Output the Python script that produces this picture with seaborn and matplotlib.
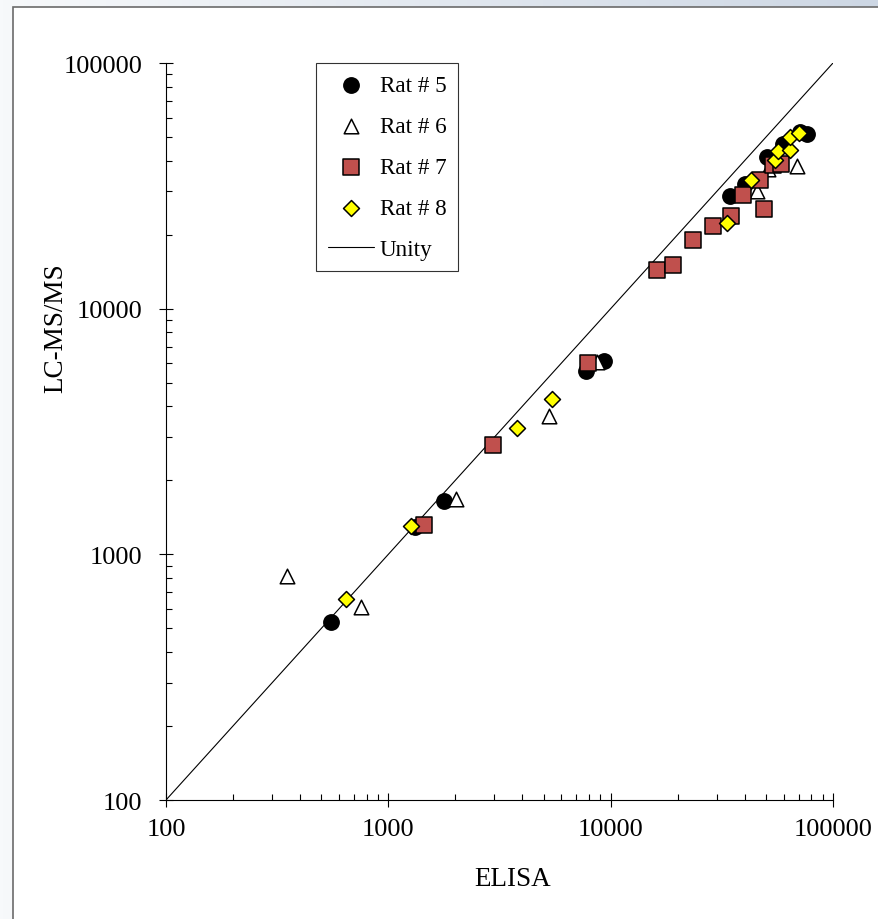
import numpy as np
import pandas as pd
import matplotlib
matplotlib.use('Agg')
import matplotlib.pyplot as plt
import matplotlib.patches as patches
import matplotlib.ticker as mticker
import seaborn as sns

# values (ELISA vs LC-MS/MS)
rat5_x = [552, 1318, 1781, 7745, 9333, 34400, 40300, 50500, 59700, 71100, 76400]
rat5_y = [530, 1291, 1648, 5572, 6124, 28700, 32100, 41400, 46800, 52400, 51400]

rat6_x = [350, 753, 2016, 5283, 8690, 45600, 51000, 68900]
rat6_y = [817, 611, 1679, 3658, 6070, 30100, 37000, 38000]

rat7_x = [1447, 2958, 7910, 16170, 19090, 23480, 28880, 34800, 39400, 47000, 49000, 53800, 58400]
rat7_y = [1315, 2786, 6010, 14360, 15050, 19010, 21680, 23820, 29000, 33400, 25400, 38420, 38780]

rat8_x = [646, 1265, 3793, 5446, 33380, 42810, 54900, 56650, 64100, 64100, 70400]
rat8_y = [658, 1304, 3266, 4286, 22290, 33370, 40300, 43750, 44200, 49900, 51840]

unity = [100, 100000]
ticks = [100, 1000, 10000, 100000]

sns.set_style('ticks')
plt.rcParams['font.family'] = ['Liberation Serif', 'DejaVu Serif']
plt.rcParams['text.color'] = 'black'
plt.rcParams['axes.labelcolor'] = 'black'

fig = plt.figure(figsize=(8.79, 9.20), dpi=100)

# light window-like background with gradient strip at the top
bg = fig.add_axes([0, 0, 1, 1], zorder=-2)
grad = np.linspace(0, 1, 256)[None, :]
bg.imshow(grad, aspect='auto', extent=[0, 1, 0, 1],
          cmap=matplotlib.colors.LinearSegmentedColormap.from_list('g', ['#f7f9fb', '#cdd7e4']))
bg.set_axis_off()
fig.patches.append(patches.Rectangle((13 / 879, -0.01), 1.0, 1 - 8 / 920 + 0.01,
                                     transform=fig.transFigure, facecolor='white',
                                     edgecolor='#6b6b6b', linewidth=1.2, zorder=-1))

ax = fig.add_axes([166 / 879, 1 - 801 / 920, 667 / 879, 737 / 920])
ax.set_facecolor('none')

sns.scatterplot(x=rat5_x, y=rat5_y, marker='o', s=121, color='black',
                edgecolor='black', linewidth=1.1, label='Rat # 5', ax=ax, zorder=3)
sns.scatterplot(x=rat6_x, y=rat6_y, marker='^', s=110, color='white',
                edgecolor='black', linewidth=1.1, label='Rat # 6', ax=ax, zorder=3)
sns.scatterplot(x=rat7_x, y=rat7_y, marker='s', s=117, color='#c0504d',
                edgecolor='black', linewidth=1.1, label='Rat # 7', ax=ax, zorder=3)
sns.scatterplot(x=rat8_x, y=rat8_y, marker='D', s=66, color='#ffff00',
                edgecolor='black', linewidth=1.1, label='Rat # 8', ax=ax, zorder=3)
sns.lineplot(x=unity, y=unity, color='black', linewidth=0.8, label='Unity', ax=ax, zorder=2)

ax.set_xscale('log')
ax.set_yscale('log')
ax.set_xlim(100, 100000)
ax.set_ylim(100, 100000)
ax.set_xticks(ticks)
ax.set_yticks(ticks)
ax.xaxis.set_major_formatter(mticker.FuncFormatter(lambda v, p: '%d' % v))
ax.yaxis.set_major_formatter(mticker.FuncFormatter(lambda v, p: '%d' % v))
ax.xaxis.set_minor_locator(mticker.LogLocator(base=10, subs=np.arange(2, 10)))
ax.yaxis.set_minor_locator(mticker.LogLocator(base=10, subs=np.arange(2, 10)))
ax.xaxis.set_minor_formatter(mticker.NullFormatter())
ax.yaxis.set_minor_formatter(mticker.NullFormatter())

ax.tick_params(which='major', direction='inout', length=10, width=0.8,
               color='black', labelsize=19, labelcolor='black')
ax.tick_params(which='minor', direction='in', length=4.5, width=0.8, color='black')
ax.tick_params(axis='x', which='major', pad=8)
ax.tick_params(axis='y', which='major', pad=12)

sns.despine(ax=ax)
for sp in ['left', 'bottom']:
    ax.spines[sp].set_color('black')
    ax.spines[sp].set_linewidth(0.8)

ax.set_xlabel('ELISA', fontsize=19.5)
ax.set_ylabel('LC-MS/MS', fontsize=19.5)
ax.xaxis.set_label_coords(0.52, -0.089)
ax.yaxis.set_label_coords(-0.146, 0.642)

leg = ax.legend(loc='upper left', bbox_to_anchor=(0.225, 1.0), frameon=True,
                fancybox=False, fontsize=16.7, labelspacing=0.85, borderpad=0.5,
                handlelength=2.0, handletextpad=0.25, borderaxespad=0)
leg.get_frame().set_edgecolor('black')
leg.get_frame().set_linewidth(0.8)

fig.savefig('out.png', dpi=100)
